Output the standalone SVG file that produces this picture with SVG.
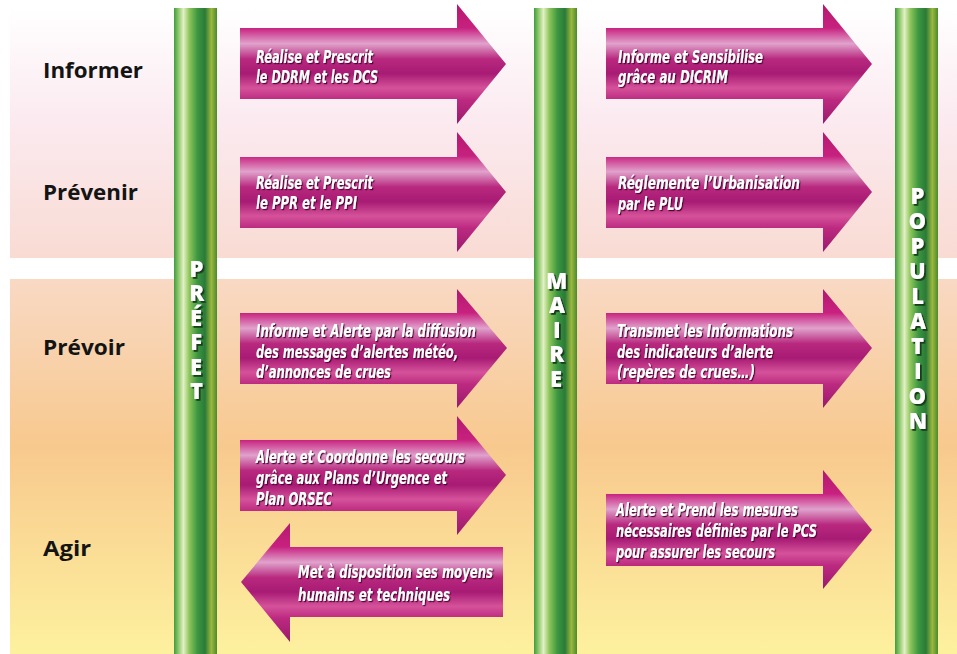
<svg xmlns="http://www.w3.org/2000/svg" width="957" height="654" viewBox="0 0 957 654">
<defs>
<linearGradient id="bgTop" x1="0" y1="0" x2="0" y2="1">
<stop offset="0" stop-color="#ffffff"/>
<stop offset="0.45" stop-color="#fbeaf0"/>
<stop offset="1" stop-color="#f9dbd3"/>
</linearGradient>
<linearGradient id="bgBot" x1="0" y1="0" x2="0" y2="1">
<stop offset="0" stop-color="#f9d9c4"/>
<stop offset="0.45" stop-color="#f8c98e"/>
<stop offset="1" stop-color="#fdf19e"/>
</linearGradient>
<linearGradient id="pillar" x1="0" y1="0" x2="1" y2="0">
<stop offset="0" stop-color="#3f9c3f"/>
<stop offset="0.1" stop-color="#8cc66a"/>
<stop offset="0.22" stop-color="#e2f1c4"/>
<stop offset="0.36" stop-color="#8cc45a"/>
<stop offset="0.55" stop-color="#3b9640"/>
<stop offset="0.72" stop-color="#2a7a38"/>
<stop offset="0.87" stop-color="#9cb83e"/>
<stop offset="1" stop-color="#4a8a2c"/>
</linearGradient>
<linearGradient id="arr" x1="0" y1="0" x2="0" y2="1">
<stop offset="0" stop-color="#b3196f"/>
<stop offset="0.2" stop-color="#c8217f"/>
<stop offset="0.33" stop-color="#e0a2cc"/>
<stop offset="0.46" stop-color="#b8287e"/>
<stop offset="0.58" stop-color="#a81b74"/>
<stop offset="0.7" stop-color="#d5529a"/>
<stop offset="0.8" stop-color="#bc2a80"/>
<stop offset="1" stop-color="#9a196c"/>
</linearGradient>
<filter id="ts" x="-5%" y="-20%" width="110%" height="140%">
<feDropShadow dx="1.2" dy="1.2" stdDeviation="0.4" flood-color="#4a0630" flood-opacity="0.9"/>
</filter>
<filter id="ps" x="-30%" y="-10%" width="160%" height="120%">
<feDropShadow dx="1.8" dy="1.8" stdDeviation="0.3" flood-color="#163d16" flood-opacity="1"/>
</filter>
<style>
.lbl{font-family:"Open Sans","Liberation Sans",sans-serif;font-weight:bold;font-size:21px;fill:#141414}
.at{font-family:"Liberation Sans Narrow","DejaVu Sans Condensed","Open Sans",sans-serif;font-weight:bold;font-style:italic;font-size:18px;fill:#ffffff;filter:url(#ts)}
.pl{font-family:"Open Sans","Liberation Sans",sans-serif;font-weight:800;font-size:22px;fill:#ffffff;writing-mode:vertical-rl;text-orientation:upright;filter:url(#ps)}
.arrow{fill:url(#arr)}
.pil{fill:url(#pillar)}
</style>
</defs>

<rect width="957" height="654" fill="#ffffff"/>
<rect x="10" y="8" width="947" height="250" fill="url(#bgTop)"/>
<rect x="10" y="279" width="947" height="375" fill="url(#bgBot)"/>

<g id="labels">
<text class="lbl" x="43" y="78" textLength="100" lengthAdjust="spacingAndGlyphs">Informer</text>
<text class="lbl" x="43" y="200" textLength="95" lengthAdjust="spacingAndGlyphs">Prévenir</text>
<text class="lbl" x="43" y="355" textLength="82" lengthAdjust="spacingAndGlyphs">Prévoir</text>
<text class="lbl" x="43" y="556" textLength="48" lengthAdjust="spacingAndGlyphs">Agir</text>
</g>

<g id="prefet">
<rect class="pil" x="174" y="8" width="43" height="646"/>
<text class="pl" x="196" y="253" letter-spacing="-5.6">PRÉFET</text>
</g>
<g id="maire">
<rect class="pil" x="534" y="8" width="43" height="646"/>
<text class="pl" x="556" y="265" letter-spacing="-5.6">MAIRE</text>
</g>
<g id="population">
<rect class="pil" x="895" y="8" width="43" height="646"/>
<text class="pl" x="917" y="180" letter-spacing="-5">POPULATION</text>
</g>

<g id="arrow-prefet-informer">
<polygon class="arrow" points="240,28 457,28 457,4 506,64 457,124 457,99 240,99"/>
<text class="at" x="256" y="63" textLength="117" lengthAdjust="spacingAndGlyphs">Réalise et Prescrit</text>
<text class="at" x="256" y="83" textLength="122" lengthAdjust="spacingAndGlyphs">le DDRM et les DCS</text>
</g>
<g id="arrow-maire-informer">
<polygon class="arrow" points="606,28 823,28 823,4 872,64 823,124 823,99 606,99"/>
<text class="at" x="618" y="63" textLength="145" lengthAdjust="spacingAndGlyphs">Informe et Sensibilise</text>
<text class="at" x="618" y="83" textLength="110" lengthAdjust="spacingAndGlyphs">grâce au DICRIM</text>
</g>

<g id="arrow-prefet-prevenir">
<polygon class="arrow" points="240,157 457,157 457,132 506,192 457,252 457,228 240,228"/>
<text class="at" x="256" y="189" textLength="117" lengthAdjust="spacingAndGlyphs">Réalise et Prescrit</text>
<text class="at" x="256" y="209" textLength="101" lengthAdjust="spacingAndGlyphs">le PPR et le PPI</text>
</g>
<g id="arrow-maire-prevenir">
<polygon class="arrow" points="606,157 823,157 823,132 872,192 823,252 823,228 606,228"/>
<text class="at" x="618" y="189" textLength="182" lengthAdjust="spacingAndGlyphs">Réglemente l’Urbanisation</text>
<text class="at" x="618" y="210" textLength="65" lengthAdjust="spacingAndGlyphs">par le PLU</text>
</g>

<g id="arrow-prefet-prevoir">
<polygon class="arrow" points="240,313 457,313 457,289 507,348 457,408 457,384 240,384"/>
<text class="at" x="256" y="337" textLength="220" lengthAdjust="spacingAndGlyphs">Informe et Alerte par la diffusion</text>
<text class="at" x="256" y="358" textLength="202" lengthAdjust="spacingAndGlyphs">des messages d’alertes météo,</text>
<text class="at" x="256" y="378" textLength="135" lengthAdjust="spacingAndGlyphs">d’annonces de crues</text>
</g>
<g id="arrow-maire-prevoir">
<polygon class="arrow" points="606,313 823,313 823,289 872,348 823,408 823,384 606,384"/>
<text class="at" x="617" y="337" textLength="176" lengthAdjust="spacingAndGlyphs">Transmet les Informations</text>
<text class="at" x="617" y="358" textLength="156" lengthAdjust="spacingAndGlyphs">des indicateurs d’alerte</text>
<text class="at" x="617" y="378" textLength="138" lengthAdjust="spacingAndGlyphs">(repères de crues…)</text>
</g>

<g id="arrow-prefet-agir">
<polygon class="arrow" points="240,440 457,440 457,416 506,475 457,535 457,511 240,511"/>
<text class="at" x="256" y="463" textLength="209" lengthAdjust="spacingAndGlyphs">Alerte et Coordonne les secours</text>
<text class="at" x="256" y="484" textLength="191" lengthAdjust="spacingAndGlyphs">grâce aux Plans d’Urgence et</text>
<text class="at" x="256" y="505" textLength="76" lengthAdjust="spacingAndGlyphs">Plan ORSEC</text>
</g>
<g id="arrow-population-agir">
<polygon class="arrow" points="503,547 290,547 290,523 241,582 290,642 290,617 503,617"/>
<text class="at" x="298" y="578" textLength="195" lengthAdjust="spacingAndGlyphs">Met à disposition ses moyens</text>
<text class="at" x="298" y="601" textLength="152" lengthAdjust="spacingAndGlyphs">humains et techniques</text>
</g>
<g id="arrow-maire-agir">
<polygon class="arrow" points="606,494 823,494 823,470 872,530 823,589 823,566 606,566"/>
<text class="at" x="616" y="516" textLength="182" lengthAdjust="spacingAndGlyphs">Alerte et Prend les mesures</text>
<text class="at" x="616" y="537" textLength="201" lengthAdjust="spacingAndGlyphs">nécessaires définies par le PCS</text>
<text class="at" x="616" y="558" textLength="159" lengthAdjust="spacingAndGlyphs">pour assurer les secours</text>
</g>

<g id="connectors"/>
</svg>
